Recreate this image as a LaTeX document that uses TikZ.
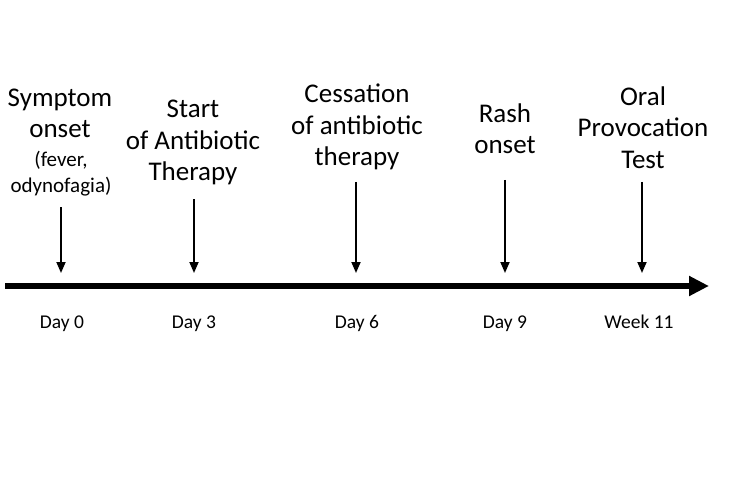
\documentclass[tikz,border=0pt]{standalone}
\usepackage{fontspec}
\setmainfont{Carlito}
\usepackage{tikz}
\usetikzlibrary{arrows.meta}

\tikzset{
  event/.style={anchor=base,align=center,inner sep=0pt,font=\fontsize{27}{31.5}\selectfont},
  eventsub/.style={anchor=base,align=center,inner sep=0pt,font=\fontsize{21}{26}\selectfont},
  daylabel/.style={anchor=base,inner sep=0pt,font=\fontsize{19.5}{24}\selectfont},
  pointer/.style={-{Triangle[length=11pt,width=9pt]},line width=1.8pt},
}

\begin{document}
\begin{tikzpicture}[x=1pt,y=-1pt]
\useasboundingbox (0,0) rectangle (750,500);
% time axis
\coordinate (start) at (5,286);
\coordinate (end) at (709,286);
\draw[-{Triangle[length=20pt,width=19pt]},line width=6pt](start)--(end);
% events
\node[event] (sym) at (60,138) {Symptom\\onset};
\node[eventsub] (symsub) at (61,193) {(fever,\\odynofagia)};
\node[event] (abx) at (193,181) {Start\\of Antibiotic\\Therapy};
\node[event] (stop) at (357,166) {Cessation\\of antibiotic\\therapy};
\node[event] (rash) at (505,154) {Rash\\onset};
\node[event] (opt) at (643,168) {Oral\\Provocation\\Test};
% arrows
\coordinate (a0) at (61,207); \coordinate (b0) at (61,273);
\coordinate (a1) at (194,199); \coordinate (b1) at (194,273);
\coordinate (a2) at (356,182); \coordinate (b2) at (356,273);
\coordinate (a3) at (505,180); \coordinate (b3) at (505,273);
\coordinate (a4) at (642,182); \coordinate (b4) at (642,273);
\foreach \i in {0,...,4}
  \draw[pointer](a\i)--(b\i);
% days
\node[daylabel] (d0) at (62,328) {Day 0};
\node[daylabel] (d3) at (194,328) {Day 3};
\node[daylabel] (d6) at (357,328) {Day 6};
\node[daylabel] (d9) at (505,328) {Day 9};
\node[daylabel] (w11) at (639,328) {Week 11};
\end{tikzpicture}
\end{document}
